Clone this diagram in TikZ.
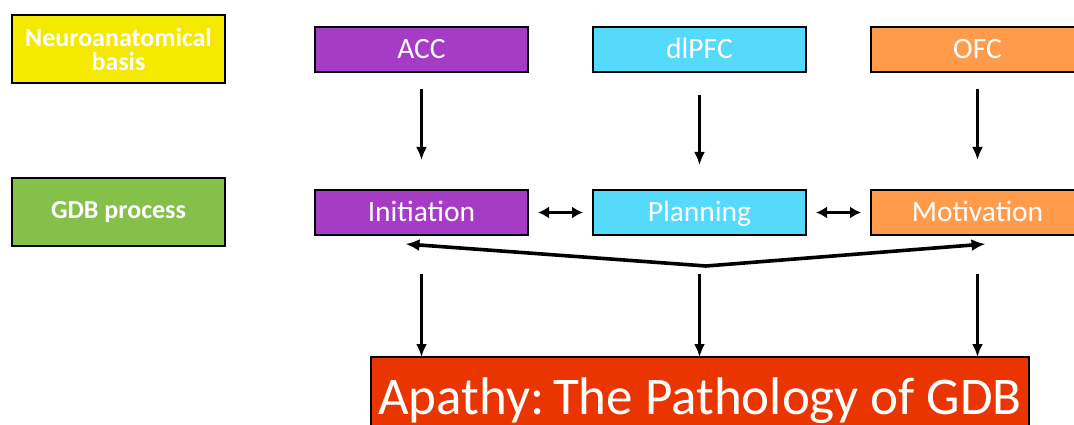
\documentclass[tikz,border=0pt]{standalone}
\usepackage{fontspec}
\setmainfont{Carlito}
\usetikzlibrary{arrows.meta,positioning}
\definecolor{tagyellow}{HTML}{F5E900}
\definecolor{taggreen}{HTML}{85C14A}
\definecolor{accpurple}{HTML}{A63BC6}
\definecolor{pfcblue}{HTML}{56DAFB}
\definecolor{ofcorange}{HTML}{FF9B4B}
\definecolor{apathyred}{HTML}{EA3500}

\begin{document}
\begin{tikzpicture}[
  x=1pt, y=-1pt,
  node distance=65pt,
  box/.style={draw=black, line width=1.6pt, minimum width=213pt, minimum height=45pt,
              inner sep=0pt, outer sep=0pt, text=white, text height=19pt, text depth=0pt,
              font=\fontsize{29.5}{31}\selectfont},
  tag/.style={draw=black, line width=1.6pt, minimum width=213pt, minimum height=68pt,
              inner sep=0pt, outer sep=0pt, text=white, align=center,
              font=\fontsize{26}{24}\selectfont\bfseries},
  apathy/.style={draw=black, line width=1.6pt, fill=apathyred, minimum width=658pt,
              minimum height=80pt, inner sep=0pt, outer sep=0pt, text=white,
              text height=35pt, text depth=0pt, font=\fontsize{53}{55}\selectfont},
  arr/.style={-{Latex[length=13pt,width=11pt]}, line width=2.4pt},
  both/.style={{Latex[length=11pt,width=12pt]}-{Latex[length=11pt,width=12pt]}, line width=2.6pt},
  fan/.style={{Latex[length=14pt,width=12pt]}-{Latex[length=14pt,width=12pt]}, line width=3.6pt,
              line join=round}
]
\useasboundingbox (0,0) rectangle (1074,425);
% row labels
\node[tag, fill=tagyellow] (neuro) at (118.5,49) {Neuroanatomical\\basis};
\node[tag, fill=taggreen] (gdb) at (118.5,212) {GDB process};
% brain areas
\node[box, fill=accpurple] (acc) at (421.5,49.5) {ACC};
\node[box, fill=pfcblue, right=of acc] (dlpfc) {dlPFC};
\node[box, fill=ofcorange, right=of dlpfc] (ofc) {OFC};
% processes
\node[box, fill=accpurple, below=118pt of acc] (init) {Initiation};
\node[box, fill=pfcblue, right=of init] (plan) {Planning};
\node[box, fill=ofcorange, right=of plan] (motiv) {Motivation};
\node[apathy] (path) at (700,397) {Apathy:\,The Pathology of GDB};
\coordinate (apex) at (706,266);

\draw[arr, shorten <=17pt, shorten >=30pt] (acc) -- (init);
\draw[arr, shorten <=23pt, shorten >=25pt] (dlpfc) -- (plan);
\draw[arr, shorten <=17pt, shorten >=30pt] (ofc) -- (motiv);
\draw[both, shorten <=10pt, shorten >=10pt] (init) -- (plan);
\draw[both, shorten <=10pt, shorten >=10pt] (plan) -- (motiv);
\draw[fan] ([xshift=-16pt, yshift=-9pt]init.south) -- (apex)
  -- ([xshift=8pt, yshift=-9pt]motiv.south);
\draw[arr, shorten <=39pt] (init.south) -- (init.south |- path.north);
\draw[arr, shorten <=39pt] (plan.south) -- (plan.south |- path.north);
\draw[arr, shorten <=39pt] (motiv.south) -- (motiv.south |- path.north);
\end{tikzpicture}
\end{document}
